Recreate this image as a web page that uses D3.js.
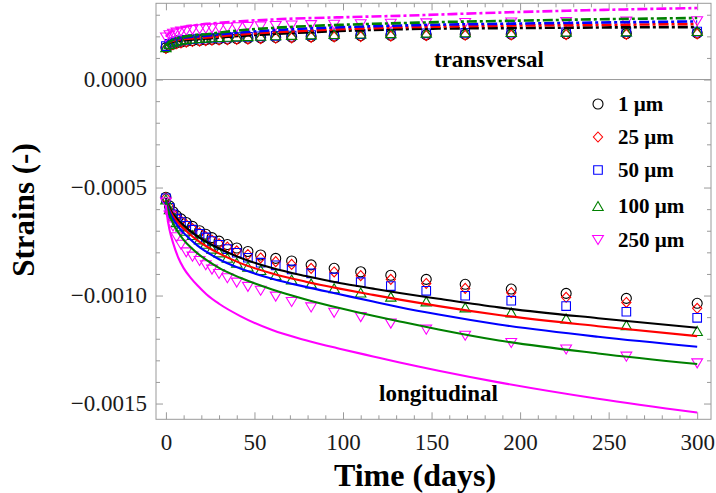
<!DOCTYPE html>
<html><head><meta charset="utf-8">
<script src="https://cdn.jsdelivr.net/npm/d3@7/dist/d3.min.js"></script>
<style>
html,body{margin:0;padding:0;background:#fff;}
svg{display:block;font-family:"Liberation Serif","Times New Roman",serif;}
</style></head>
<body>
<svg id="chart" width="716" height="493"></svg>
<script>
// ---- data ----
const seriesNames = ["1 \u00b5m", "25 \u00b5m", "50 \u00b5m", "100 \u00b5m", "250 \u00b5m"];
const seriesColors = ["#000000", "#ff0000", "#0000ff", "#008000", "#ff00ff"];
const seriesShapes = ["circle", "diamond", "square", "up", "down"];

const markerTimes = [0, 2, 4, 6, 8.5, 11.5, 15, 19, 22.5, 26, 30, 34.7, 40, 46.3, 53.5, 62, 71, 82, 95, 110, 127, 147, 169, 195, 226, 260, 300];

const longMarks1   = [-0.000545,-0.000585,-0.000612,-0.00063,-0.000645,-0.000662,-0.00068,-0.0007,-0.000716,-0.000732,-0.000748,-0.000764,-0.00078,-0.000796,-0.000812,-0.000828,-0.00084,-0.000858,-0.000874,-0.00089,-0.000906,-0.000925,-0.000948,-0.00097,-0.00099,-0.001013,-0.001036];
const longMarks25  = [-0.000548,-0.00059,-0.00062,-0.000638,-0.000654,-0.000672,-0.00069,-0.00071,-0.000727,-0.000744,-0.00076,-0.000776,-0.000793,-0.00081,-0.000826,-0.000843,-0.000856,-0.000874,-0.000891,-0.000908,-0.000925,-0.000944,-0.000967,-0.000987,-0.001008,-0.001032,-0.001059];
const longMarks50  = [-0.00055,-0.000594,-0.000624,-0.000644,-0.00066,-0.000677,-0.000695,-0.000714,-0.000731,-0.000748,-0.000765,-0.000785,-0.000802,-0.000825,-0.000848,-0.00086,-0.000879,-0.000897,-0.000916,-0.000938,-0.000956,-0.000978,-0.001001,-0.001024,-0.001049,-0.001075,-0.001103];
const longMarks100 = [-0.000555,-0.0006,-0.00063,-0.00066,-0.00068,-0.0007,-0.00072,-0.00074,-0.00076,-0.000783,-0.0008,-0.000825,-0.000848,-0.000866,-0.000882,-0.000905,-0.000926,-0.000944,-0.000966,-0.000986,-0.001005,-0.001027,-0.001055,-0.001078,-0.001106,-0.001137,-0.001164];
const longMarks250 = [-0.00057,-0.00063,-0.00068,-0.00073,-0.000765,-0.0008,-0.00082,-0.00084,-0.00086,-0.00088,-0.0009,-0.00092,-0.00094,-0.00096,-0.000978,-0.001005,-0.00103,-0.001055,-0.00108,-0.0011,-0.00113,-0.001158,-0.001186,-0.00122,-0.00125,-0.001283,-0.001314];

const transMarks1   = [0.000148,0.000158,0.000165,0.00017,0.000174,0.000177,0.00018,0.000182,0.000184,0.000186,0.000187,0.000188,0.00019,0.000191,0.000193,0.000195,0.000197,0.000199,0.000201,0.000203,0.000205,0.000207,0.000209,0.00021,0.000212,0.000213,0.000215];
const transMarks25  = [0.000144,0.000154,0.000161,0.000166,0.00017,0.000173,0.000176,0.000178,0.00018,0.000182,0.000183,0.000184,0.000186,0.000187,0.000189,0.000191,0.000193,0.000195,0.000197,0.000199,0.000201,0.000203,0.000205,0.000206,0.000208,0.000209,0.000211];
const transMarks50  = [0.000155,0.000165,0.000172,0.000177,0.000181,0.000184,0.000187,0.000189,0.000191,0.000193,0.000194,0.000195,0.000197,0.000198,0.0002,0.000202,0.000204,0.000206,0.000208,0.00021,0.000212,0.000214,0.000216,0.000217,0.000219,0.00022,0.000222];
const transMarks100 = [0.00015,0.000164,0.000173,0.00018,0.000184,0.000187,0.00019,0.000192,0.000194,0.000196,0.000197,0.000198,0.0002,0.000201,0.000203,0.000205,0.000207,0.000209,0.000211,0.000213,0.000215,0.000217,0.000219,0.00022,0.000222,0.000223,0.000225];
const transMarks250 = [0.000195,0.000205,0.000212,0.000217,0.000222,0.000226,0.00023,0.000233,0.000235,0.000237,0.000239,0.00024,0.000242,0.000244,0.000246,0.000248,0.00025,0.000252,0.000254,0.000256,0.000258,0.00026,0.000262,0.000264,0.000266,0.000268,0.00027];

const lineTimes = [0, 0.5, 1, 2, 4, 7, 10, 14, 18, 23, 30, 42, 60, 79, 98, 117, 132, 154, 188, 244, 300];

const longLine1   = [-0.00055,-0.000565,-0.000576,-0.000595,-0.000623,-0.000652,-0.000675,-0.000703,-0.000727,-0.000752,-0.000782,-0.000825,-0.000873,-0.00091,-0.000942,-0.000968,-0.000988,-0.001015,-0.001055,-0.001105,-0.001149];
const longLine25  = [-0.000553,-0.00057,-0.000582,-0.000602,-0.000632,-0.000664,-0.00069,-0.00072,-0.000746,-0.000773,-0.000805,-0.00085,-0.000898,-0.000936,-0.000968,-0.000997,-0.001019,-0.001049,-0.00109,-0.001142,-0.001188];
const longLine50  = [-0.000555,-0.000575,-0.000588,-0.00061,-0.000645,-0.000682,-0.00071,-0.000742,-0.00077,-0.000798,-0.000832,-0.000875,-0.000922,-0.00096,-0.000994,-0.001028,-0.001054,-0.001088,-0.001134,-0.001191,-0.001237];
const longLine100 = [-0.000558,-0.000582,-0.000598,-0.000624,-0.000664,-0.000708,-0.000742,-0.000777,-0.000806,-0.000836,-0.000872,-0.000918,-0.000972,-0.001018,-0.001058,-0.001094,-0.00112,-0.001157,-0.001208,-0.001268,-0.001317];
const longLine250 = [-0.00058,-0.00062,-0.00065,-0.000695,-0.000755,-0.000825,-0.000873,-0.000918,-0.000955,-0.000995,-0.001038,-0.001095,-0.00116,-0.001207,-0.001246,-0.001282,-0.00131,-0.001348,-0.001402,-0.001478,-0.001542];

const transLine1   = [0.000162,0.000165,0.000167,0.000171,0.000176,0.00018,0.000183,0.000185,0.000187,0.00019,0.000195,0.000202,0.000211,0.000218,0.000225,0.00023,0.000233,0.000236,0.000238,0.000241,0.000243];
const transLine25  = [0.000164,0.000167,0.00017,0.000175,0.00018,0.000185,0.000188,0.00019,0.000192,0.000195,0.0002,0.000209,0.000219,0.000226,0.000233,0.000238,0.000242,0.000245,0.000249,0.000253,0.000257];
const transLine50  = [0.000166,0.00017,0.000173,0.000178,0.000184,0.00019,0.000194,0.000197,0.0002,0.000203,0.000209,0.000218,0.000228,0.000236,0.000242,0.000247,0.00025,0.000254,0.000258,0.000264,0.000269];
const transLine100 = [0.000158,0.000163,0.000168,0.000175,0.000184,0.000192,0.000198,0.000203,0.000207,0.00021,0.000217,0.000228,0.000239,0.000247,0.000253,0.000258,0.000261,0.000266,0.000271,0.000279,0.000285];
const transLine250 = [0.000198,0.000203,0.000208,0.000216,0.000227,0.000237,0.000243,0.000249,0.000253,0.000258,0.000263,0.00027,0.000278,0.000284,0.000288,0.000292,0.000295,0.000301,0.00031,0.000322,0.000331];

const xMajorTicks = [0, 50, 100, 150, 200, 250, 300];
const yMajorTicks = [0, -0.0005, -0.001, -0.0015];

const longMarks = [longMarks1, longMarks25, longMarks50, longMarks100, longMarks250];
const transMarks = [transMarks1, transMarks25, transMarks50, transMarks100, transMarks250];
const longLines = [longLine1, longLine25, longLine50, longLine100, longLine250];
const transLines = [transLine1, transLine25, transLine50, transLine100, transLine250];

// ---- layout ----
const svg = d3.select("#chart");
const L = 156, R = 711, T = 3.3, B = 419.3;
const x = d3.scaleLinear().domain([-5.6, 307.8]).range([L, R]);
const y = d3.scaleLinear().domain([-0.001573, 0.000353]).range([B, T]);
const frameColor = "#9a9a9a";

function shapePath(s) {
  switch (s) {
    case "circle": return "M5,0A5,5 0 1,1 -5,0A5,5 0 1,1 5,0Z";
    case "diamond": return "M0,-5L4.6,0L0,5L-4.6,0Z";
    case "square": return "M-4.3,-4.3H4.3V4.3H-4.3Z";
    case "up": return "M0,-4.5L5.2,4.5L-5.2,4.5Z";
    case "down": return "M0,4.5L5.4,-4.5L-5.4,-4.5Z";
  }
}

svg.append("defs").append("clipPath").attr("id", "clip")
  .append("rect").attr("x", L).attr("y", T).attr("width", R - L).attr("height", B - T);

// zero line
svg.append("line").attr("x1", L).attr("x2", R).attr("y1", y(0)).attr("y2", y(0))
  .attr("stroke", frameColor).attr("stroke-width", 1);

// axes (ticks inward on all sides)
const minorX = d3.range(0, 301, 10).filter(v => v % 50 !== 0);
const minorY = [-0.0001,-0.0002,-0.0003,-0.0004,-0.0006,-0.0007,-0.0008,-0.0009,-0.0011,-0.0012,-0.0013,-0.0014,0.0001,0.0002,0.0003];

function styleAxis(g) {
  g.select(".domain").remove();
  g.selectAll(".tick line").attr("stroke", frameColor).attr("stroke-width", 1);
}
const fmtY = d => d === 0 ? "0.0000" : "\u2212" + Math.abs(d).toFixed(4);

svg.append("g").attr("transform", `translate(0,${B})`)
  .call(d3.axisBottom(x).tickValues(xMajorTicks).tickSize(-7).tickPadding(14).tickFormat(d3.format("d")))
  .call(styleAxis)
  .selectAll("text").attr("font-size", 23).attr("fill", "#1a1a1a")
  .attr("font-family", "Liberation Serif, Times New Roman, serif");
svg.append("g").attr("transform", `translate(0,${B})`)
  .call(d3.axisBottom(x).tickValues(minorX).tickSize(-4).tickFormat(""))
  .call(styleAxis);
svg.append("g").attr("transform", `translate(0,${T})`)
  .call(d3.axisTop(x).tickValues(xMajorTicks).tickSize(-7).tickFormat(""))
  .call(styleAxis);
svg.append("g").attr("transform", `translate(0,${T})`)
  .call(d3.axisTop(x).tickValues(minorX).tickSize(-4).tickFormat(""))
  .call(styleAxis);

svg.append("g").attr("transform", `translate(${L},0)`)
  .call(d3.axisLeft(y).tickValues(yMajorTicks).tickSize(-7).tickPadding(9).tickFormat(fmtY))
  .call(styleAxis)
  .selectAll("text").attr("font-size", 23).attr("fill", "#1a1a1a")
  .attr("font-family", "Liberation Serif, Times New Roman, serif");
svg.append("g").attr("transform", `translate(${L},0)`)
  .call(d3.axisLeft(y).tickValues(minorY).tickSize(-4).tickFormat(""))
  .call(styleAxis);
svg.append("g").attr("transform", `translate(${R},0)`)
  .call(d3.axisRight(y).tickValues(yMajorTicks).tickSize(-7).tickFormat(""))
  .call(styleAxis);
svg.append("g").attr("transform", `translate(${R},0)`)
  .call(d3.axisRight(y).tickValues(minorY).tickSize(-4).tickFormat(""))
  .call(styleAxis);

// frame
svg.append("rect").attr("x", L).attr("y", T).attr("width", R - L).attr("height", B - T)
  .attr("fill", "none").attr("stroke", frameColor).attr("stroke-width", 1);

const plot = svg.append("g").attr("clip-path", "url(#clip)");

// markers
seriesNames.forEach((name, i) => {
  [longMarks[i], transMarks[i]].forEach(vals => {
    plot.append("g").selectAll("path").data(markerTimes.map((t, k) => [t, vals[k]]))
      .join("path")
      .attr("d", shapePath(seriesShapes[i]))
      .attr("transform", d => `translate(${x(d[0])},${y(d[1])})`)
      .attr("fill", "none").attr("stroke", seriesColors[i]).attr("stroke-width", 1.1);
  });
});

// lines
const lineGen = d3.line().x(d => x(d[0])).y(d => y(d[1])).curve(d3.curveMonotoneX);
seriesNames.forEach((name, i) => {
  plot.append("path").datum(lineTimes.map((t, k) => [t, transLines[i][k]]))
    .attr("d", lineGen).attr("fill", "none").attr("stroke", seriesColors[i])
    .attr("stroke-width", 2.6).attr("stroke-dasharray", "10,3,3,3");
});
seriesNames.forEach((name, i) => {
  plot.append("path").datum(lineTimes.map((t, k) => [t, longLines[i][k]]))
    .attr("d", lineGen).attr("fill", "none").attr("stroke", seriesColors[i])
    .attr("stroke-width", 2.1);
});

// annotations
svg.append("text").attr("x", 434).attr("y", 67).attr("font-size", 23).attr("font-weight", "bold")
  .text("transversal");
svg.append("text").attr("x", 379).attr("y", 401).attr("font-size", 23).attr("font-weight", "bold")
  .text("longitudinal");

// legend
const legRows = [104, 137, 170, 206, 240];
seriesNames.forEach((name, i) => {
  svg.append("path").attr("d", shapePath(seriesShapes[i]))
    .attr("transform", `translate(598,${legRows[i]})`)
    .attr("fill", "none").attr("stroke", seriesColors[i]).attr("stroke-width", 1.1);
  svg.append("text").attr("x", 618).attr("y", legRows[i] + 7)
    .attr("font-size", 21).attr("font-weight", "bold").text(name);
});

// axis titles
svg.append("text").attr("x", 415).attr("y", 486).attr("text-anchor", "middle")
  .attr("font-size", 32).attr("font-weight", "bold").text("Time (days)");
svg.append("text").attr("transform", "translate(34,210) rotate(-90)").attr("text-anchor", "middle")
  .attr("font-size", 31).attr("font-weight", "bold").text("Strains (-)");
</script>
</body></html>
